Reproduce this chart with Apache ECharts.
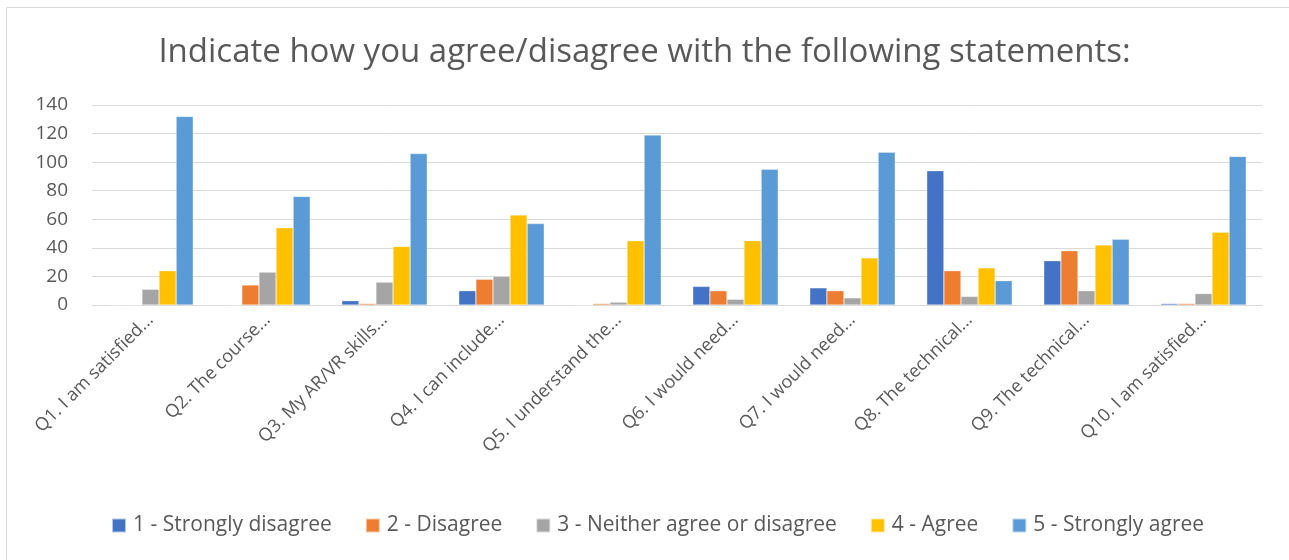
<!DOCTYPE html>
<html>
<head>
<meta charset="utf-8">
<script src="https://cdn.jsdelivr.net/npm/echarts@6/dist/echarts.min.js"></script>
<style>
html,body{margin:0;padding:0;background:#fff;}
#c{width:1289px;height:560px;}
</style>
</head>
<body>
<div id="c"></div>
<script>
const categories = ['Q1. I am satisfied...','Q2. The course...','Q3. My AR/VR skills...','Q4. I can include...','Q5. I understand the...','Q6. I would need...','Q7. I would need...','Q8. The technical...','Q9. The technical...','Q10. I am satisfied...'];
const seriesNames = ['1 - Strongly disagree','2 - Disagree','3 - Neither agree or disagree','4 - Agree','5 - Strongly agree'];
const stronglyDisagree = [0, 0, 3, 10, 0, 13, 12, 94, 31, 1];
const disagree = [0, 14, 1, 18, 1, 10, 10, 24, 38, 1];
const neither = [11, 23, 16, 20, 2, 4, 5, 6, 10, 8];
const agree = [24, 54, 41, 63, 45, 45, 33, 26, 42, 51];
const stronglyAgree = [132, 76, 106, 57, 119, 95, 107, 17, 46, 104];
const colors = ['#4472C4','#ED7D31','#A5A5A5','#FFC000','#5B9BD5'];
const allData = [stronglyDisagree, disagree, neither, agree, stronglyAgree];
const FONT = 'Open Sans';
const TXT = '#595959';

const chart = echarts.init(document.getElementById('c'), null, {renderer:'canvas'});
chart.setOption({
  animation:false,
  backgroundColor:'#fff',
  color: colors,
  textStyle:{fontFamily:FONT},
  graphic:[{type:'rect', silent:true, shape:{x:6.5,y:7.5,width:1400,height:700}, style:{fill:null, stroke:'#d9d9d9', lineWidth:1}}],
  title:{
    text:'Indicate how you agree/disagree with the following statements:',
    left:'center', top:31,
    textStyle:{fontFamily:FONT, fontSize:33, fontWeight:'normal', color:TXT}
  },
  legend:{
    data: seriesNames,
    bottom:19, left:106,
    icon:'rect', itemWidth:14, itemHeight:14, itemGap:33,
    textStyle:{fontFamily:FONT, fontSize:21, color:TXT, padding:[0,0,0,2]}
  },
  grid:{left:92, right:27, top:105, bottom:255, containLabel:false},
  xAxis:{
    type:'category', data:categories,
    axisTick:{show:false},
    axisLine:{lineStyle:{color:'#d9d9d9', width:1}},
    axisLabel:{rotate:45, interval:0, fontFamily:FONT, fontSize:18, color:TXT, margin:12}
  },
  yAxis:{
    type:'value', min:0, max:140, interval:20,
    axisLine:{show:false}, axisTick:{show:false},
    splitLine:{lineStyle:{color:'#d9d9d9', width:1}},
    axisLabel:{fontFamily:FONT, fontSize:19, color:TXT, margin:24}
  },
  series: seriesNames.map((n,i)=>({
    name:n, type:'bar', data:allData[i],
    barGap:'0%', barCategoryGap:'27%',
    itemStyle:{color:colors[i], borderColor:'rgba(255,255,255,0.6)', borderWidth:0.5}
  }))
});
</script>
</body>
</html>
